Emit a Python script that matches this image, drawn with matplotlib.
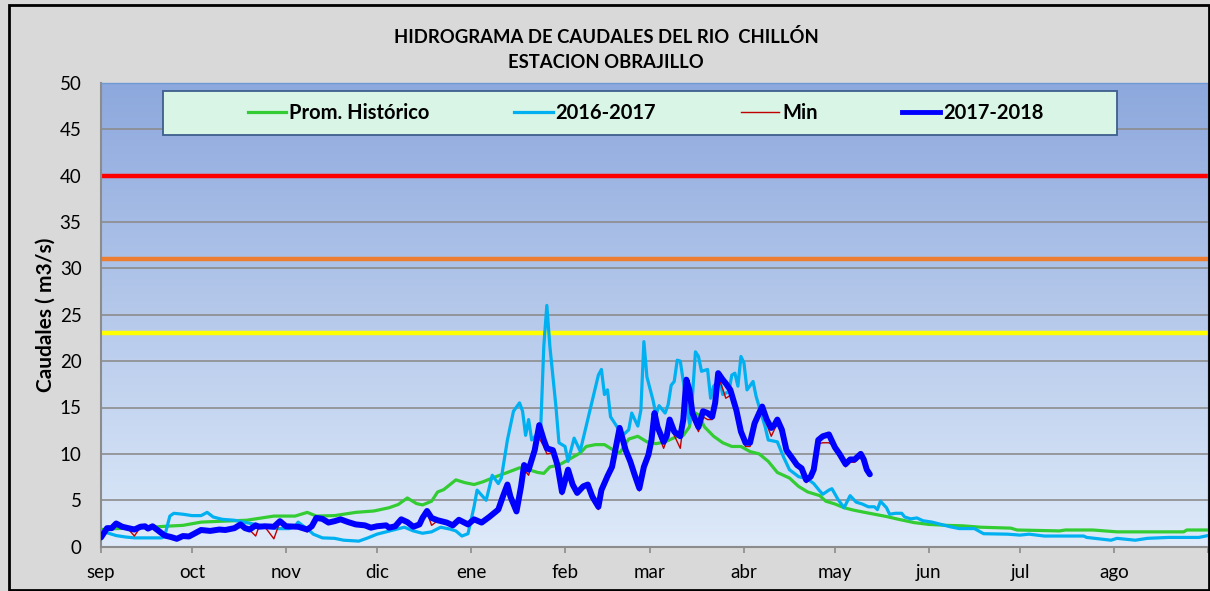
import numpy as np
import matplotlib
matplotlib.use("Agg")
import matplotlib.pyplot as plt
from matplotlib.colors import LinearSegmentedColormap
from matplotlib.patches import Rectangle
from matplotlib.lines import Line2D

plt.rcParams['font.family'] = ['Lato', 'DejaVu Sans']

# ── Datos (día desde el 1 de setiembre, caudal m3/s) ─────────────
meses = ['sep', 'oct', 'nov', 'dic', 'ene', 'feb', 'mar', 'abr', 'may', 'jun', 'jul', 'ago']
inicio_mes = [0, 30, 61, 91, 122, 153, 181, 212, 242, 273, 303, 334, 365]

dias_prom = [0, 5, 15, 21, 27, 33, 40, 48, 53, 57,
             64, 68, 71, 77, 84, 90, 95, 98, 101, 104,
             106, 109, 111, 113, 117, 120, 123, 126, 129, 134,
             138, 141, 144, 146, 148, 151, 154, 158, 160, 163,
             166, 169, 171, 174, 177, 180, 183, 186, 190, 192,
             194, 195, 197, 199, 202, 205, 208, 211, 214, 217,
             220, 223, 227, 230, 233, 237, 239, 242, 245, 248,
             251, 255, 259, 263, 268, 273, 279, 284, 290, 295,
             300, 302, 316, 318, 327, 335, 357, 358, 365]
q_prom = [1.85, 1.95, 2.05, 2.2, 2.3, 2.65, 2.75, 2.85, 3.1, 3.3,
          3.3, 3.7, 3.3, 3.35, 3.7, 3.85, 4.2, 4.55, 5.25, 4.65,
          4.5, 4.9, 5.9, 6.15, 7.2, 6.9, 6.7, 7.0, 7.4, 8.0,
          8.5, 8.3, 8.0, 7.9, 8.6, 8.8, 9.35, 10.1, 10.8, 11.0,
          11.0, 10.4, 10.1, 11.6, 11.9, 11.3, 11.1, 11.3, 11.9, 12.0,
          12.9, 14.6, 14.2, 12.9, 11.9, 11.2, 10.8, 10.8, 10.25, 10.0,
          9.2, 8.0, 7.4, 6.5, 5.9, 5.5, 4.9, 4.6, 4.2, 3.95,
          3.75, 3.5, 3.25, 2.95, 2.6, 2.4, 2.3, 2.25, 2.1, 2.05,
          2.0, 1.8, 1.7, 1.8, 1.8, 1.6, 1.6, 1.8, 1.8]

dias_1617 = [0, 2, 5, 8, 11, 20, 21, 22.7, 24, 27,
             30, 33, 35, 37, 40, 44, 47, 51, 55, 58,
             62, 64, 65, 67, 68, 70, 73, 77, 80, 85,
             88, 91, 94, 97, 100, 103, 106, 109, 112, 115,
             117, 119, 121, 123, 124, 127, 129, 131, 132, 134,
             136, 138, 139, 140, 141, 142, 144, 145, 146, 147,
             148, 150, 151, 153, 154, 156, 158, 161, 162, 164,
             165, 166, 167, 168, 170, 172, 174, 175, 177, 178,
             179, 180, 182, 183, 184, 186, 187, 188, 189, 190,
             191, 193, 194, 195, 196, 197, 198, 200, 201, 202,
             204, 205, 207, 208, 209, 210, 211, 212, 213, 215,
             216, 219, 220, 223, 225, 227, 230, 233, 235, 237,
             238, 240, 241, 243, 245, 247, 249, 251, 253, 255,
             256, 257, 259, 260, 262, 264, 265, 267, 269, 271,
             274, 277, 280, 283, 288, 291, 299, 303, 306, 311,
             324, 325, 333, 335, 341, 345, 352, 362, 365]
q_1617 = [1.7, 1.5, 1.2, 1.05, 0.95, 0.95, 1.15, 3.3, 3.6, 3.5,
          3.35, 3.35, 3.7, 3.2, 2.95, 2.85, 2.65, 2.4, 2.15, 1.95,
          1.95, 2.2, 2.65, 2.15, 1.95, 1.35, 0.95, 0.9, 0.7, 0.6,
          0.95, 1.35, 1.6, 1.85, 2.1, 1.7, 1.45, 1.6, 2.1, 1.9,
          1.7, 1.15, 1.4, 4.3, 6.1, 5.0, 7.7, 6.8, 7.4, 11.5,
          14.6, 15.5, 14.6, 12.0, 13.7, 11.5, 12.2, 13.0, 21.6, 26.0,
          21.6, 15.1, 11.2, 10.8, 9.2, 11.7, 10.3, 14.4, 15.8, 18.5,
          19.1, 16.4, 16.9, 14.0, 13.0, 12.0, 12.6, 14.4, 13.0, 14.7,
          22.1, 18.3, 15.8, 14.2, 15.2, 14.4, 15.3, 17.4, 17.8, 20.1,
          20.0, 15.6, 13.3, 16.2, 21.0, 20.5, 18.9, 19.1, 16.0, 17.3,
          18.0, 16.4, 16.7, 18.5, 18.7, 17.3, 20.5, 19.8, 16.9, 17.8,
          16.2, 12.9, 11.5, 11.3, 9.7, 8.3, 7.55, 7.3, 6.8, 6.0,
          5.65, 6.1, 6.25, 5.1, 4.2, 5.5, 4.8, 4.6, 4.3, 4.3,
          4.0, 4.9, 4.2, 3.5, 3.6, 3.6, 3.2, 3.0, 3.1, 2.8,
          2.65, 2.4, 2.15, 1.95, 1.95, 1.4, 1.35, 1.25, 1.35, 1.15,
          1.15, 1.0, 0.7, 0.9, 0.7, 0.9, 1.0, 1.0, 1.2]

dias_1718 = [0, 1, 2, 3.5, 5, 7, 9, 11, 13, 14.5,
             15.5, 17, 19, 21, 23, 25, 27, 29, 31, 33,
             36, 39, 41, 44, 46, 47.5, 49, 51, 52, 54,
             57, 59, 61, 65, 68, 69.5, 71, 73, 75, 77,
             79, 81.5, 84, 87, 89, 91, 94, 95, 97, 99,
             101, 103, 105, 106, 107.5, 109, 111, 114, 116, 118,
             121, 123, 125.5, 128, 131, 132.5, 134, 135, 137, 138.5,
             139.5, 141, 143, 144.5, 146, 147, 149, 150.5, 152, 154,
             155.5, 157, 159, 160.5, 162, 164, 165, 167, 168.5, 171,
             173, 174.5, 176, 177.5, 179, 180.5, 181.5, 182.5, 183.5, 185.5,
             186.5, 187.5, 189, 191, 192, 193, 194, 195, 197, 198.5,
             200, 201.5, 202.5, 203.5, 205, 206, 207.5, 209.5, 211, 212.5,
             214, 215.5, 217, 218, 219.5, 221, 222, 223, 224.5, 226,
             228, 229.5, 231, 232.5, 234, 235, 236.5, 238, 240, 241,
             242, 243.5, 245.5, 247, 248.5, 250.5, 251.5, 252.5, 253.5]
q_1718 = [1.0, 1.5, 2.0, 2.0, 2.5, 2.15, 2.0, 1.85, 2.15, 2.2,
          1.95, 2.2, 1.7, 1.2, 1.05, 0.85, 1.15, 1.1, 1.45, 1.8,
          1.7, 1.85, 1.8, 2.0, 2.4, 2.0, 1.85, 2.3, 2.15, 2.2,
          2.15, 2.75, 2.2, 2.15, 1.85, 2.2, 3.1, 3.0, 2.6, 2.75,
          2.95, 2.65, 2.4, 2.3, 2.05, 2.2, 2.3, 2.05, 2.2, 2.95,
          2.65, 2.15, 2.4, 3.1, 3.85, 3.1, 2.85, 2.6, 2.3, 2.9,
          2.4, 2.95, 2.6, 3.2, 4.0, 5.4, 6.7, 5.4, 3.8, 6.5,
          8.8, 8.3, 10.4, 13.1, 11.5, 10.6, 10.4, 8.8, 5.9, 8.3,
          6.7, 5.8, 6.5, 6.7, 5.4, 4.3, 6.1, 7.6, 8.6, 12.8,
          10.4, 9.2, 7.7, 6.3, 8.6, 9.9, 11.5, 14.4, 12.9, 11.3,
          11.9, 13.7, 12.4, 11.9, 13.7, 18.0, 16.9, 14.4, 12.9, 14.6,
          14.4, 14.0, 15.5, 18.7, 18.0, 17.6, 16.9, 14.7, 12.4, 11.2,
          11.2, 13.3, 14.4, 15.1, 13.7, 12.8, 13.1, 13.7, 12.6, 10.4,
          9.5, 8.8, 8.45, 7.2, 7.55, 8.3, 11.5, 11.9, 12.1, 11.4,
          10.7, 10.0, 8.9, 9.4, 9.4, 10.0, 9.4, 8.3, 7.8]
q_min = [0.8, 1.3, 1.9, 2.0, 2.4, 2.1, 1.9, 1.15, 2.1, 2.15,
         1.9, 2.1, 1.65, 1.15, 1.0, 0.8, 1.1, 1.05, 1.4, 1.75,
         1.65, 1.8, 1.75, 1.95, 2.3, 1.95, 1.8, 1.15, 2.1, 2.15,
         0.85, 2.7, 2.15, 2.1, 1.6, 2.1, 3.0, 2.9, 2.5, 2.7,
         2.9, 2.6, 2.35, 2.25, 2.0, 2.15, 2.25, 2.0, 2.15, 2.85,
         2.6, 2.1, 2.35, 3.0, 3.7, 2.3, 2.8, 2.55, 2.25, 2.85,
         2.35, 2.9, 2.55, 3.1, 3.8, 5.1, 6.4, 5.2, 3.7, 6.2,
         8.3, 7.7, 10.0, 11.7, 10.8, 10.0, 10.1, 8.5, 5.6, 8.0,
         6.5, 5.6, 6.3, 6.5, 5.0, 4.0, 5.9, 7.3, 8.3, 12.2,
         10.1, 9.0, 7.5, 6.0, 8.3, 9.6, 11.2, 13.3, 12.4, 10.6,
         11.5, 13.2, 12.0, 10.6, 13.3, 16.0, 16.2, 13.8, 12.4, 14.0,
         13.7, 13.7, 15.0, 18.3, 17.0, 16.0, 16.3, 14.3, 12.0, 10.8,
         10.8, 12.8, 14.0, 14.6, 13.2, 11.9, 12.6, 13.3, 12.2, 10.1,
         9.2, 8.6, 8.2, 6.9, 7.3, 8.0, 11.1, 11.2, 11.2, 11.0,
         10.4, 9.7, 8.6, 9.1, 9.1, 9.7, 9.1, 8.0, 7.6]

# umbrales (m3/s)
umbral_rojo = 40
umbral_naranja = 31
umbral_amarillo = 23

# ── Figura ────────────────────────────────────────────────────────
W, H = 1210, 591
fig = plt.figure(figsize=(W / 100, H / 100), dpi=100)
fig.patch.set_facecolor('#D9D9D9')
fig.add_artist(Rectangle((9 / W, 1 - 590 / H), 1200 / W, 585 / H, transform=fig.transFigure,
                         fill=False, edgecolor='black', lw=2, zorder=0.5))

ax = fig.add_axes([101 / W, 1 - 546.7 / H, 1107 / W, 464 / H])

# fondo degradado del área de trazado
grad = LinearSegmentedColormap.from_list('fondo', ['#DEEAF9', '#8DA8DD'])
ax.imshow(np.linspace(0, 1, 256).reshape(-1, 1), cmap=grad, origin='lower',
          extent=[0, 365, 0, 50], aspect='auto', zorder=0)

for y in range(5, 50, 5):
    ax.axhline(y, color='#8C8C8C', lw=1.2, zorder=1)

ax.axhline(umbral_rojo, color='#FF0000', lw=3.2, zorder=2)
ax.axhline(umbral_naranja, color='#ED7D31', lw=3.2, zorder=2)
ax.axhline(umbral_amarillo, color='#FFFF00', lw=3.2, zorder=2)

ax.plot(dias_prom, q_prom, color='#33CC33', lw=2.3, zorder=3, solid_joinstyle='round')
ax.plot(dias_1617, q_1617, color='#00B0F0', lw=2.3, zorder=4, solid_joinstyle='round')
ax.plot(dias_1718, q_min, color='#C00000', lw=1.0, zorder=5)
ax.plot(dias_1718, q_1718, color='#0000FF', lw=4.3, zorder=6,
        solid_joinstyle='round', solid_capstyle='round')

ax.set_xlim(0, 365)
ax.set_ylim(0, 50)
ax.set_yticks(range(0, 51, 5))
ax.set_xticks(inicio_mes)
ax.set_xticklabels(meses + [''])
ax.tick_params(axis='y', length=0, pad=14, labelsize=13.5)
ax.tick_params(axis='x', length=4.5, width=1.2, color='#8C8C8C', pad=8, labelsize=13.5)

for s in ['left', 'bottom']:
    ax.spines[s].set_color('#8C8C8C')
    ax.spines[s].set_linewidth(1.5)
for s in ['top', 'right']:
    ax.spines[s].set_color('#6F9AD3')
    ax.spines[s].set_linewidth(1.0)

ax.set_ylabel('Caudales ( m3/s)', fontsize=15, fontweight='bold', labelpad=3)

fig.text(606 / W, 1 - 37 / H, 'HIDROGRAMA DE CAUDALES DEL RIO  CHILLÓN',
         ha='center', va='center', fontsize=13.3, fontweight='bold')
fig.text(606 / W, 1 - 63 / H, 'ESTACION OBRAJILLO',
         ha='center', va='center', fontsize=13.3, fontweight='bold')

# ── Leyenda ───────────────────────────────────────────────────────
fig.add_artist(Rectangle((163 / W, 1 - 135 / H), 954 / W, 44 / H, transform=fig.transFigure,
                         facecolor='#D8F5E6', edgecolor='#3D5F8C', lw=1.3, zorder=3))
handles = [Line2D([], [], color='#33CC33', lw=2.3),
           Line2D([], [], color='#00B0F0', lw=2.3),
           Line2D([], [], color='#C00000', lw=1.0),
           Line2D([], [], color='#0000FF', lw=3.5)]
labels = ['Prom. Histórico', '2016-2017', 'Min', '2017-2018']
leg = fig.legend(handles, labels, loc='center', bbox_to_anchor=(646 / W, 1 - 113 / H),
                 ncol=4, frameon=False, handlelength=1.9, handletextpad=0.15,
                 columnspacing=4.2, prop={'size': 14.5, 'weight': 'bold'})
leg.set_zorder(4)

fig.savefig('out.png', dpi=100, facecolor=fig.get_facecolor())
